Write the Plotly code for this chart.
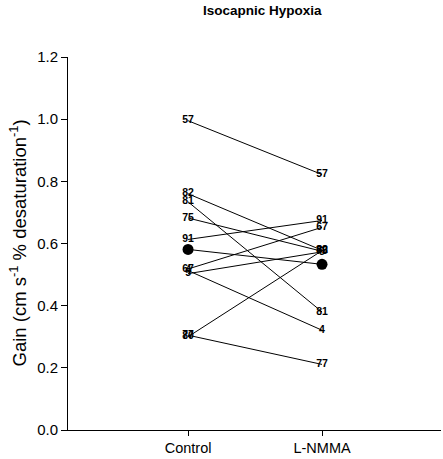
import plotly.graph_objects as go

# Data
conditions = ["Control", "L-NMMA"]
subjects = ["57", "82", "81", "75", "91", "67", "4", "5", "77", "80"]
control = [0.995, 0.760, 0.734, 0.682, 0.613, 0.518, 0.513, 0.503, 0.305, 0.300]
lnmma = [0.822, 0.578, 0.380, 0.575, 0.674, 0.652, 0.321, 0.573, 0.211, 0.577]
mean_values = [0.581, 0.533]

FONT = "Liberation Sans, Arial, sans-serif"
xpos = [1, 2]

fig = go.Figure()
for s, c, l in zip(subjects, control, lnmma):
    fig.add_trace(go.Scatter(
        x=xpos, y=[c, l], mode="lines+text", text=[s, s],
        textposition="middle center",
        textfont=dict(family=FONT, size=10.5, color="black", weight="bold"),
        line=dict(color="black", width=1), showlegend=False, hoverinfo="skip"))

fig.add_trace(go.Scatter(
    x=xpos, y=mean_values, mode="lines+markers",
    marker=dict(color="black", size=11),
    line=dict(color="black", width=1), showlegend=False, hoverinfo="skip"))

fig.update_layout(
    width=443, height=459,
    margin=dict(l=68, r=2, t=57, b=29),
    paper_bgcolor="white", plot_bgcolor="white",
    font=dict(family=FONT, color="black"),
    hovermode=False,
    xaxis=dict(range=[0.104, 2.888], tickvals=xpos, ticktext=conditions,
               ticks="outside", ticklen=5, tickcolor="black",
               showline=True, linecolor="black", linewidth=1,
               showgrid=False, zeroline=False,
               tickfont=dict(size=14.5, family=FONT, color="black")),
    yaxis=dict(range=[0, 1.2], tickvals=[0, 0.2, 0.4, 0.6, 0.8, 1.0, 1.2],
               tickformat=".1f", ticks="outside", ticklen=6, tickcolor="black",
               showline=True, linecolor="black", linewidth=1,
               showgrid=False, zeroline=False,
               tickfont=dict(size=15, family=FONT, color="black")),
    annotations=[
        dict(text="<b>Isocapnic Hypoxia</b>", xref="paper", yref="paper",
             x=(262 - 68) / 373, y=1 + (57 - 11) / 373, xanchor="center",
             yanchor="middle", showarrow=False,
             font=dict(size=13.5, family=FONT, color="black")),
        dict(text="Gain (cm s<sup>-1</sup> % desaturation<sup>-1</sup>)",
             xref="paper", yref="paper", x=(18 - 68) / 373, y=0.5,
             xanchor="center", yanchor="middle", textangle=-90,
             showarrow=False,
             font=dict(size=18.5, family=FONT, color="black")),
    ],
)

# remove the browser's default body margin so the figure sits at (0, 0)
fig.write_html("out.html",
               config={"displayModeBar": False},
               post_script="document.body.style.margin='0px';")
